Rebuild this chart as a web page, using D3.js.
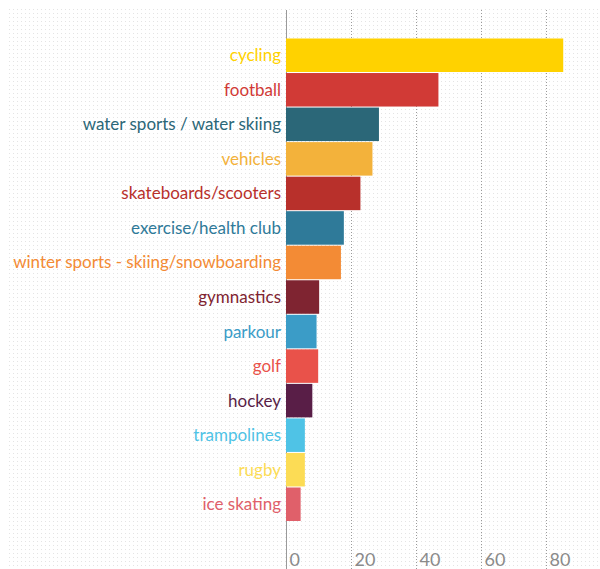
<!DOCTYPE html>
<html>
<head>
<meta charset="utf-8">
<script src="https://cdn.jsdelivr.net/npm/d3@7"></script>
<style>
  body { margin: 0; background: #fff; }
  svg { display: block; }
  .lbl { font-family: Lato, "Noto Sans", sans-serif; font-size: 17px; }
  .axis text { font-family: Lato, "Noto Sans", sans-serif; font-size: 18px; fill: #8a8a8a; }
</style>
</head>
<body>
<div id="chart"></div>
<script>
let sports = ["cycling", "football", "water sports / water skiing", "vehicles",
  "skateboards/scooters", "exercise/health club", "winter sports - skiing/snowboarding",
  "gymnastics", "parkour", "golf", "hockey", "trampolines", "rugby", "ice skating"];
let injuries = [85.3, 46.9, 28.6, 26.6, 22.9, 17.8, 16.9, 10.2, 9.4, 9.9, 8.1, 5.8, 5.8, 4.5];
let colours = ["#FFD200", "#D13A36", "#2B6778", "#F3B23B", "#B8302B", "#2F7A99", "#F38B35",
  "#7F2431", "#3B9CC7", "#E9524A", "#591E47", "#4FC3E6", "#FCDC55", "#E0606A"];
let ticks = [0, 20, 40, 60, 80];

let width = 600, height = 569;
let gridTop = 10;

var svg = d3.select("#chart").append("svg")
  .attr("width", width)
  .attr("height", height);

// dotted paper background
var defs = svg.append("defs");
var pat = defs.append("pattern")
  .attr("id", "dots")
  .attr("width", 4).attr("height", 4)
  .attr("patternUnits", "userSpaceOnUse");
pat.append("rect").attr("width", 4).attr("height", 4).attr("fill", "#fff");
pat.append("rect").attr("x", 1).attr("y", 1).attr("width", 1).attr("height", 1).attr("fill", "#e4e4e4");

svg.append("rect")
  .attr("x", 9).attr("y", 8)
  .attr("width", width - 9).attr("height", height - 8)
  .attr("fill", "url(#dots)");

var x = d3.scaleLinear().domain([0, 80]).range([286, 546]);
var y = d3.scaleBand().domain(sports).range([38.5, 521]).paddingInner(0.03);

// gridlines + tick labels
var axis = svg.append("g")
  .attr("class", "axis")
  .attr("transform", "translate(0," + height + ")")
  .call(d3.axisBottom(x).tickValues(ticks).tickSize(-(height - gridTop)).tickFormat(d3.format("d")));
axis.select(".domain").remove();
axis.selectAll(".tick line")
  .attr("stroke", "#9a9a9a")
  .attr("stroke-dasharray", function(d) { return d === 0 ? null : "1,2"; })
  .attr("stroke-width", 1);
axis.selectAll(".tick text")
  .attr("text-anchor", "start")
  .attr("x", 3)
  .attr("y", -3)
  .attr("dy", 0);

// bars
svg.selectAll(".bar")
  .data(sports)
  .enter().append("rect")
  .attr("class", "bar")
  .attr("x", x(0))
  .attr("y", function(d) { return y(d); })
  .attr("width", function(d, i) { return x(injuries[i]) - x(0); })
  .attr("height", y.bandwidth())
  .attr("fill", function(d, i) { return colours[i]; });

// labels
svg.selectAll(".lbl")
  .data(sports)
  .enter().append("text")
  .attr("class", "lbl")
  .attr("x", x(0) - 5)
  .attr("y", function(d) { return y(d) + y.bandwidth() / 2; })
  .attr("dy", ".35em")
  .attr("text-anchor", "end")
  .attr("fill", function(d, i) { return colours[i]; })
  .text(function(d) { return d; });
</script>
</body>
</html>
